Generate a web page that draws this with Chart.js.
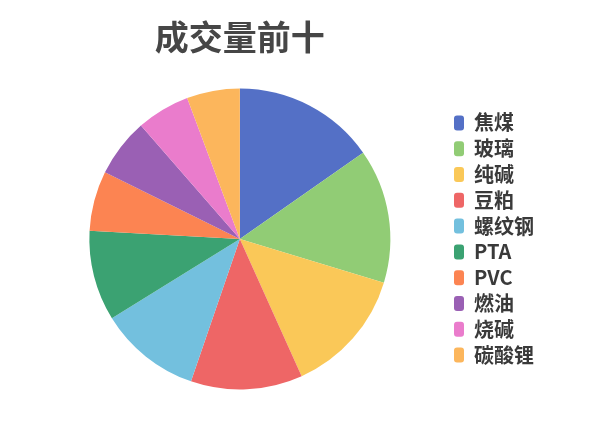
<!DOCTYPE html>
<html>
<head>
<meta charset="utf-8">
<script src="https://cdn.jsdelivr.net/npm/chart.js@4/dist/chart.umd.min.js"></script>
<style>
  html, body { margin: 0; padding: 0; background: #ffffff; }
  #wrap { width: 600px; height: 428px; }
</style>
</head>
<body>
<div id="wrap"><canvas id="c" width="600" height="428"></canvas></div>
<script>
const titleText = "成交量前十";
const categories = ["焦煤", "玻璃", "纯碱", "豆粕", "螺纹钢", "PTA", "PVC", "燃油", "烧碱", "碳酸锂"];
const volumes = [55.0, 51.9, 48.9, 43.2, 39.3, 34.9, 23.2, 22.6, 20.6, 20.5];
const colors = ["#5470c6", "#91cc75", "#fac858", "#ee6666", "#73c0de", "#3ba272", "#fc8452", "#9a60b4", "#ea7ccc", "#fcb65c"];

const FONT = "'Noto Sans CJK SC', 'Noto Sans', sans-serif";

new Chart(document.getElementById("c"), {
  type: "pie",
  data: {
    labels: categories,
    datasets: [{
      data: volumes,
      backgroundColor: colors,
      borderWidth: 0,
      hoverOffset: 0
    }]
  },
  options: {
    responsive: false,
    animation: false,
    devicePixelRatio: 1,
    layout: { padding: { left: 31.5, right: 56, top: 0, bottom: 38.5 } },
    plugins: {
      title: {
        display: true,
        text: titleText,
        fullSize: false,
        color: "#464646",
        font: { family: FONT, size: 34, weight: "bold" },
        padding: { top: 17.1, bottom: 30.6 }
      },
      legend: {
        display: true,
        position: "right",
        fullSize: false,
        align: "center",
        labels: {
          color: "#3a3a3a",
          font: { family: FONT, size: 20, weight: "bold" },
          boxWidth: 10,
          boxHeight: 15,
          useBorderRadius: true,
          borderRadius: 3,
          padding: 5.8
        }
      },
      tooltip: { enabled: false }
    }
  }
});
</script>
</body>
</html>
